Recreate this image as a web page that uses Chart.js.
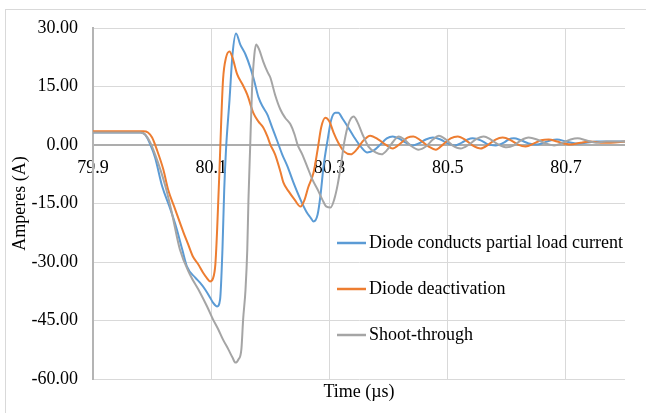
<!DOCTYPE html>
<html><head><meta charset="utf-8">
<script src="https://cdn.jsdelivr.net/npm/chart.js@4"></script>
<style>html,body{margin:0;padding:0;background:#fff;overflow:hidden}</style>
</head><body>
<canvas id="c" width="646" height="413"></canvas>
<script>
const seriesNames = ["Diode conducts partial load current", "Diode deactivation", "Shoot-through"];
const seriesColors = ["#5B9BD5", "#ED7D31", "#A5A5A5"];
const xTickValues = [79.9, 80.1, 80.3, 80.5, 80.7];

const tBlue = [79.900,79.980,79.988,79.997,80.005,80.017,80.031,80.041,80.051,80.059,80.073,80.081,80.090,80.098,80.103,80.110,80.115,80.119,80.122,80.125,80.131,80.136,80.142,80.149,80.158,80.166,80.173,80.180,80.188,80.195,80.203,80.212,80.220,80.229,80.239,80.251,80.261,80.268,80.273,80.280,80.285,80.290,80.297,80.303,80.310,80.315,80.322,80.331,80.341,80.353,80.364,80.375,80.386,80.397,80.407,80.417,80.429,80.441,80.451,80.463,80.475,80.488,80.500,80.512,80.524,80.534,80.542,80.556,80.569,80.581,80.595,80.603,80.612,80.624,80.637,80.651,80.663,80.675,80.685,80.700,80.717,80.734,80.751,80.768,80.800];
const aBlue = [3.2,3.2,2.7,0.1,-3.2,-10.6,-16.5,-21.2,-26.8,-31.2,-34.0,-35.3,-37.1,-39.1,-40.4,-41.4,-39.6,-26.8,-11.4,-1.2,11.7,23.2,28.6,25.8,23.2,19.9,16.3,12.2,9.6,7.8,4.5,0.9,-2.4,-5.5,-9.6,-14.0,-17.1,-18.6,-19.6,-17.8,-12.7,-5.5,1.4,6.5,8.3,8.3,6.8,4.7,2.2,-0.4,-1.9,-1.4,0.1,1.7,2.2,1.7,0.6,-0.1,0.4,1.4,1.9,1.4,0.4,-0.1,0.6,1.4,1.7,1.2,0.1,-0.1,0.6,1.4,1.7,1.2,0.4,0.1,0.6,1.2,1.4,0.9,0.4,0.6,0.9,0.9,0.9];

const tOrange = [79.900,79.985,79.993,80.000,80.008,80.019,80.027,80.039,80.053,80.061,80.069,80.078,80.086,80.093,80.098,80.103,80.107,80.110,80.114,80.117,80.120,80.125,80.131,80.136,80.144,80.153,80.161,80.171,80.180,80.188,80.195,80.200,80.208,80.217,80.222,80.231,80.241,80.251,80.258,80.264,80.273,80.280,80.286,80.293,80.300,80.307,80.315,80.325,80.336,80.346,80.356,80.369,80.383,80.395,80.407,80.420,80.432,80.442,80.454,80.468,80.480,80.492,80.505,80.517,80.531,80.542,80.556,80.569,80.581,80.593,80.607,80.619,80.632,80.646,80.658,80.671,80.685,80.697,80.708,80.725,80.742,80.759,80.776,80.800];
const aOrange = [3.5,3.5,3.2,1.9,-1.2,-6.3,-11.4,-16.5,-22.4,-25.5,-28.6,-30.6,-32.7,-34.2,-35.0,-34.2,-30.6,-21.7,-6.3,6.5,16.8,22.4,24.0,22.4,18.1,15.5,12.9,8.3,6.0,4.5,2.2,0.1,-2.4,-6.8,-9.6,-11.9,-14.0,-15.8,-14.0,-10.9,-7.1,-1.2,4.5,7.0,6.0,3.2,0.6,-1.7,-2.4,-1.2,0.9,2.4,1.4,0.1,-0.9,0.4,1.9,2.2,1.2,-0.4,-1.2,0.1,1.7,2.2,1.2,-0.1,-0.9,0.1,1.4,1.9,1.2,0.1,-0.4,0.4,1.2,1.4,0.9,0.4,0.1,0.6,0.9,0.6,0.6,0.9];

const tGray = [79.900,79.980,79.988,79.997,80.005,80.014,80.024,80.034,80.047,80.064,80.081,80.093,80.103,80.112,80.120,80.129,80.136,80.141,80.146,80.151,80.154,80.158,80.161,80.163,80.166,80.169,80.173,80.176,80.181,80.188,80.195,80.200,80.208,80.217,80.225,80.234,80.241,80.246,80.254,80.263,80.271,80.280,80.288,80.295,80.302,80.308,80.314,80.319,80.325,80.332,80.341,80.347,80.356,80.366,80.378,80.388,80.398,80.408,80.417,80.427,80.437,80.451,80.463,80.475,80.485,80.497,80.508,80.522,80.536,80.547,80.561,80.573,80.586,80.600,80.612,80.624,80.637,80.651,80.666,80.680,80.695,80.708,80.720,80.734,80.751,80.768,80.785,80.800];
const aGray = [3.2,3.2,2.7,0.6,-2.4,-6.3,-11.4,-17.8,-26.8,-33.2,-37.8,-41.4,-44.7,-47.3,-49.9,-52.4,-54.5,-55.8,-55.0,-52.4,-44.7,-37.1,-26.8,-14.0,0.1,14.2,23.2,25.8,24.5,21.4,18.8,17.3,12.9,9.1,7.0,5.3,2.7,0.1,-2.4,-5.8,-8.8,-11.4,-14.0,-15.8,-16.0,-14.0,-10.1,-5.5,0.6,5.3,7.3,6.0,2.7,-0.4,-1.9,-2.4,-1.2,0.9,2.2,1.4,-0.1,-1.2,-0.4,1.4,2.4,1.4,-0.1,-0.9,0.1,1.4,2.2,1.4,0.1,-0.6,-0.1,1.2,1.9,1.4,0.4,-0.1,0.6,1.4,1.7,1.2,0.6,0.9,0.9,0.9];

const toPoints = (t, a) => t.map((x, i) => ({x: x, y: a[i]}));

const FONT = '"Liberation Serif", "Times New Roman", serif';
Chart.defaults.font.family = FONT;
Chart.defaults.font.size = 18;
Chart.defaults.color = '#000';

const frame = {
  id: 'frame',
  beforeDraw(chart) {
    const ctx = chart.ctx;
    ctx.save();
    ctx.fillStyle = '#fff';
    ctx.fillRect(0, 0, chart.width, chart.height);
    ctx.strokeStyle = '#D9D9D9';
    ctx.lineWidth = 1;
    ctx.strokeRect(5.5, 9.5, chart.width + 10, chart.height + 10);
    ctx.restore();
  }
};

const inlineLegend = {
  id: 'inlineLegend',
  afterDraw(chart) {
    const ctx = chart.ctx;
    const ys = [243, 289, 335];
    chart.data.datasets.forEach((ds, i) => {
      ctx.save();
      ctx.strokeStyle = ds.borderColor;
      ctx.lineWidth = 2.5;
      ctx.beginPath();
      ctx.moveTo(337, ys[i]);
      ctx.lineTo(366, ys[i]);
      ctx.stroke();
      ctx.fillStyle = '#000';
      ctx.font = '18px ' + FONT;
      ctx.textBaseline = 'middle';
      ctx.textAlign = 'left';
      ctx.fillText(ds.label, 369, ys[i]);
      ctx.restore();
    });
  }
};

const setXTicks = (scale) => { scale.ticks = xTickValues.map(v => ({value: v})); };

new Chart(document.getElementById('c'), {
  type: 'line',
  data: {
    datasets: [
      {label: seriesNames[0], data: toPoints(tBlue, aBlue), borderColor: seriesColors[0], order: 2},
      {label: seriesNames[1], data: toPoints(tOrange, aOrange), borderColor: seriesColors[1], order: 1},
      {label: seriesNames[2], data: toPoints(tGray, aGray), borderColor: seriesColors[2], order: 0}
    ].map(d => Object.assign(d, {borderWidth: 2, pointRadius: 0, fill: false, cubicInterpolationMode: 'monotone', xAxisID: 'x', yAxisID: 'y'}))
  },
  options: {
    responsive: false,
    animation: false,
    devicePixelRatio: 1,
    layout: {padding: {left: 0, right: 21, top: 28, bottom: 5.4}},
    plugins: {legend: {display: false}, tooltip: {enabled: false}},
    scales: {
      x: {
        type: 'linear', position: 'bottom', min: 79.9, max: 80.8,
        afterBuildTicks: setXTicks,
        ticks: {display: false},
        grid: {color: c => (c.tick && c.tick.value === 79.9) ? 'rgba(0,0,0,0)' : '#D9D9D9', lineWidth: 1, drawTicks: false},
        border: {display: false},
        title: {display: true, text: 'Time (µs)', font: {size: 18}, padding: {top: 2, bottom: 5}}
      },
      x2: {
        type: 'linear', position: {y: 0}, min: 79.9, max: 80.8,
        afterBuildTicks: setXTicks,
        ticks: {padding: 12, font: {size: 18}, maxRotation: 0, callback: v => v.toFixed(1)},
        grid: {display: false, drawTicks: false},
        border: {display: false}
      },
      y: {
        type: 'linear', position: 'left', min: -60, max: 30,
        ticks: {stepSize: 15, padding: 15, font: {size: 18}, callback: v => v.toFixed(2)},
        grid: {
          drawTicks: false,
          color: c => (c.tick && c.tick.value === 0) ? '#ADADAD' : '#D9D9D9',
          lineWidth: c => (c.tick && c.tick.value === 0) ? 2 : 1
        },
        border: {display: true, color: '#B4B4B4', width: 2},
        title: {display: true, text: 'Amperes (A)', font: {size: 18}, padding: {top: 9, bottom: 0}},
        afterFit: s => { s.width = 93; }
      }
    }
  },
  plugins: [frame, inlineLegend]
});
</script>
</body></html>
